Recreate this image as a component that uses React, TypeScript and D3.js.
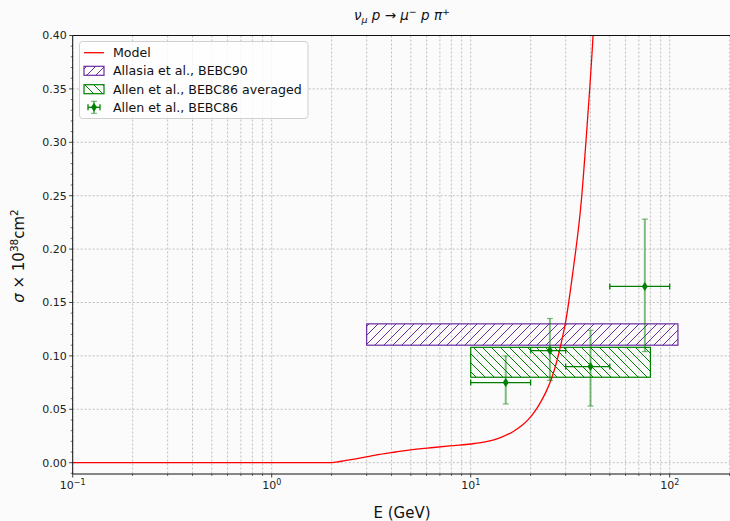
import React, { useEffect, useRef } from 'react';
import * as d3 from 'd3';

// model curve
const modelE = [0.1, 2.0, 2.2, 2.5, 2.9, 3.5, 4.2, 4.9, 6.5, 8.2, 10, 12, 14, 16.3, 18, 19.5, 21, 22.5, 24, 25.5, 27, 28.5, 30, 32.7, 36, 38.3, 41.2, 45];
const modelSigma = [0, 0, 0.0011, 0.0028, 0.005, 0.0078, 0.0100, 0.0118, 0.0142, 0.016, 0.0175, 0.0197, 0.0232, 0.029, 0.0345, 0.0405, 0.048, 0.057, 0.067, 0.079, 0.094, 0.112, 0.132, 0.18, 0.246, 0.311, 0.4, 0.55];

// BEBC90 band and BEBC86 averaged band
const bandNames = ['Allasia et al., BEBC90', 'Allen et al., BEBC86 averaged'];
const bandEmin = [3, 10];
const bandEmax = [110, 80];
const bandLow = [0.11, 0.08];
const bandHigh = [0.13, 0.108];

// BEBC86 points
const ptE = [15, 25, 40, 75];
const ptEmin = [10, 20, 30, 50];
const ptEmax = [20, 30, 50, 100];
const ptSigma = [0.075, 0.105, 0.09, 0.165];
const ptLow = [0.055, 0.077, 0.053, 0.104];
const ptHigh = [0.1, 0.135, 0.124, 0.228];

const xMajor = [0.1, 1, 10, 100];
const xMajorExp = ['−1', '0', '1', '2'];
const yMajor = [0, 0.05, 0.1, 0.15, 0.2, 0.25, 0.3, 0.35, 0.4];

const W = 730;
const H = 521;
const FONT = 'DejaVu Sans, sans-serif';

const App: React.FC = () => {
  const ref = useRef<SVGSVGElement | null>(null);

  useEffect(() => {
    if (!ref.current) return;
    const svg = d3.select(ref.current);
    svg.selectAll('*').remove();

    const left = 72.7, top = 35.5, bottom = 474, right = 732;
    const x = d3.scaleLog().domain([0.1, 10 ** ((right - left) / 199 - 1)]).range([left, right]);
    const y = d3.scaleLinear().domain([-0.0106, 0.4]).range([bottom, top]);

    svg.append('rect').attr('width', W).attr('height', H).attr('fill', '#fbfbfb');

    const defs = svg.append('defs');
    defs.append('clipPath').attr('id', 'plotclip')
      .append('rect').attr('x', left).attr('y', top).attr('width', right - left).attr('height', bottom - top);

    const hatch = (id: string, color: string, dir: number) => {
      const p = defs.append('pattern').attr('id', id).attr('patternUnits', 'userSpaceOnUse')
        .attr('width', 9).attr('height', 9);
      const d = dir > 0 ? 'M-2,2 L2,-2 M0,9 L9,0 M7,11 L11,7' : 'M-2,7 L2,11 M0,0 L9,9 M7,-2 L11,2';
      p.append('path').attr('d', d).attr('stroke', color).attr('stroke-width', 1);
    };
    hatch('h1', '#6a2ca0', 1);
    hatch('h2', 'green', -1);

    // grid
    const xMinor: number[] = [];
    for (let e = -1; e <= 2; e++) for (let k = 1; k <= 9; k++) {
      const v = k * 10 ** e;
      if (v >= 0.1 && v <= x.domain()[1]) xMinor.push(v);
    }
    const g = svg.append('g');
    g.selectAll('.vg').data(xMinor).enter().append('line')
      .attr('x1', d => x(d)).attr('x2', d => x(d)).attr('y1', top).attr('y2', bottom)
      .attr('stroke', '#b0b0b0').attr('stroke-width', 0.8).attr('stroke-dasharray', '2,2');
    g.selectAll('.hg').data(yMajor).enter().append('line')
      .attr('x1', left).attr('x2', right).attr('y1', d => y(d)).attr('y2', d => y(d))
      .attr('stroke', '#b0b0b0').attr('stroke-width', 0.8).attr('stroke-dasharray', '2,2');

    const plot = svg.append('g').attr('clip-path', 'url(#plotclip)');

    // bands
    const bandColors = ['#6a2ca0', 'green'];
    bandNames.forEach((_, i) => {
      plot.append('rect')
        .attr('x', x(bandEmin[i])).attr('y', y(bandHigh[i]))
        .attr('width', x(bandEmax[i]) - x(bandEmin[i]))
        .attr('height', y(bandLow[i]) - y(bandHigh[i]))
        .attr('fill', `url(#h${i + 1})`)
        .attr('stroke', bandColors[i]).attr('stroke-width', 1.2);
    });

    // model
    const line = d3.line<number>()
      .x((_, i) => x(modelE[i]))
      .y(d => y(d))
      .curve(d3.curveMonotoneX);
    plot.append('path').datum(modelSigma).attr('d', line)
      .attr('fill', 'none').attr('stroke', 'red').attr('stroke-width', 1.3);

    // error bars
    const diamond = 'M0,-4.5 L3,0 L0,4.5 L-3,0 Z';
    ptE.forEach((e, i) => {
      const cx = x(e), cy = y(ptSigma[i]);
      const yl = y(ptLow[i]), yh = y(ptHigh[i]);
      const vg = plot.append('g').attr('stroke', 'green').attr('stroke-opacity', 0.5).attr('stroke-width', 2);
      vg.append('line').attr('x1', cx).attr('x2', cx).attr('y1', yl).attr('y2', yh);
      vg.append('line').attr('x1', cx - 3).attr('x2', cx + 3).attr('y1', yl).attr('y2', yl).attr('stroke-width', 1.2);
      vg.append('line').attr('x1', cx - 3).attr('x2', cx + 3).attr('y1', yh).attr('y2', yh).attr('stroke-width', 1.2);
      const xl = x(ptEmin[i]), xr = x(ptEmax[i]);
      const hg = plot.append('g').attr('stroke', 'green').attr('stroke-width', 1.3);
      hg.append('line').attr('x1', xl).attr('x2', xr).attr('y1', cy).attr('y2', cy);
      hg.append('line').attr('x1', xl).attr('x2', xl).attr('y1', cy - 3).attr('y2', cy + 3);
      hg.append('line').attr('x1', xr).attr('x2', xr).attr('y1', cy - 3).attr('y2', cy + 3);
      plot.append('path').attr('d', diamond).attr('transform', `translate(${cx},${cy})`).attr('fill', 'green');
    });

    // axes
    const ax = svg.append('g').attr('font-family', FONT).attr('font-size', 11).attr('fill', '#222');
    ax.append('line').attr('x1', left).attr('x2', right).attr('y1', bottom).attr('y2', bottom).attr('stroke', '#111').attr('stroke-width', 1);
    ax.append('line').attr('x1', left).attr('x2', right).attr('y1', top).attr('y2', top).attr('stroke', '#111').attr('stroke-width', 1);
    ax.append('line').attr('x1', left).attr('x2', left).attr('y1', top).attr('y2', bottom).attr('stroke', '#111').attr('stroke-width', 1);

    xMinor.forEach(v => {
      const major = xMajor.includes(v);
      ax.append('line').attr('x1', x(v)).attr('x2', x(v)).attr('y1', bottom).attr('y2', bottom + (major ? 3.5 : 2))
        .attr('stroke', '#111').attr('stroke-width', major ? 0.8 : 0.6);
    });
    xMajor.forEach((v, i) => {
      const t = ax.append('text').attr('x', x(v)).attr('y', 489).attr('text-anchor', 'middle');
      t.append('tspan').text('10');
      t.append('tspan').attr('dy', -4).attr('font-size', 8).text(xMajorExp[i]);
    });

    for (let k = -1; k <= 40; k++) {
      const v = k / 100;
      const major = k % 5 === 0;
      ax.append('line').attr('x1', left).attr('x2', left - (major ? 3.5 : 2)).attr('y1', y(v)).attr('y2', y(v))
        .attr('stroke', '#111').attr('stroke-width', major ? 0.8 : 0.6);
    }
    yMajor.forEach(v => {
      ax.append('text').attr('x', left - 6).attr('y', y(v)).attr('dy', '0.35em').attr('text-anchor', 'end')
        .text(d3.format('.2f')(v));
    });

    // labels
    const lab = svg.append('g').attr('font-family', FONT).attr('fill', '#111');
    const title = lab.append('text').attr('x', 402).attr('y', 20).attr('text-anchor', 'middle').attr('font-size', 13.5);
    title.append('tspan').attr('font-style', 'italic').text('ν');
    title.append('tspan').attr('font-style', 'italic').attr('font-size', 9.5).attr('dy', 3).text('μ');
    title.append('tspan').attr('font-style', 'italic').attr('dy', -3).text(' p ');
    title.append('tspan').text('→');
    title.append('tspan').attr('font-style', 'italic').text(' μ');
    title.append('tspan').attr('font-size', 9.5).attr('dy', -5).text('−');
    title.append('tspan').attr('font-style', 'italic').attr('dy', 5).text(' p π');
    title.append('tspan').attr('font-size', 9.5).attr('dy', -5).text('+');

    lab.append('text').attr('x', 402).attr('y', 518).attr('text-anchor', 'middle').attr('font-size', 15).text('E (GeV)');

    const yl = lab.append('text').attr('transform', 'translate(24,256) rotate(-90)').attr('text-anchor', 'middle').attr('font-size', 15);
    yl.append('tspan').attr('font-style', 'italic').text('σ');
    yl.append('tspan').text(' × 10');
    yl.append('tspan').attr('font-size', 10.5).attr('dy', -6).text('38');
    yl.append('tspan').attr('dy', 6).text('cm');
    yl.append('tspan').attr('font-size', 10.5).attr('dy', -6).text('2');

    // legend
    const lg = svg.append('g').attr('font-family', FONT).attr('font-size', 12.6).attr('fill', '#111');
    lg.append('rect').attr('x', 79.5).attr('y', 41.5).attr('width', 228.5).attr('height', 77).attr('rx', 3)
      .attr('fill', 'white').attr('fill-opacity', 0.8).attr('stroke', '#d0d0d0');
    const rowY = [52.7, 70.8, 89.2, 107.3];
    const labels = ['Model', ...bandNames, 'Allen et al., BEBC86'];
    lg.append('line').attr('x1', 84).attr('x2', 104).attr('y1', rowY[0]).attr('y2', rowY[0]).attr('stroke', 'red').attr('stroke-width', 1.3);
    [0, 1].forEach(i => {
      lg.append('rect').attr('x', 84).attr('y', rowY[i + 1] - 4.5).attr('width', 20).attr('height', 9)
        .attr('fill', `url(#h${i + 1})`).attr('stroke', bandColors[i]).attr('stroke-width', 1.2);
    });
    const ey = rowY[3], ex = 94;
    lg.append('line').attr('x1', ex).attr('x2', ex).attr('y1', ey - 6).attr('y2', ey + 6).attr('stroke', 'green').attr('stroke-opacity', 0.5).attr('stroke-width', 2);
    lg.append('line').attr('x1', ex - 3).attr('x2', ex + 3).attr('y1', ey - 6).attr('y2', ey - 6).attr('stroke', 'green').attr('stroke-opacity', 0.5).attr('stroke-width', 1.2);
    lg.append('line').attr('x1', ex - 3).attr('x2', ex + 3).attr('y1', ey + 6).attr('y2', ey + 6).attr('stroke', 'green').attr('stroke-opacity', 0.5).attr('stroke-width', 1.2);
    lg.append('line').attr('x1', ex - 6).attr('x2', ex + 6).attr('y1', ey).attr('y2', ey).attr('stroke', 'green').attr('stroke-width', 1.3);
    lg.append('line').attr('x1', ex - 6).attr('x2', ex - 6).attr('y1', ey - 3).attr('y2', ey + 3).attr('stroke', 'green').attr('stroke-width', 1.3);
    lg.append('line').attr('x1', ex + 6).attr('x2', ex + 6).attr('y1', ey - 3).attr('y2', ey + 3).attr('stroke', 'green').attr('stroke-width', 1.3);
    lg.append('path').attr('d', diamond).attr('transform', `translate(${ex},${ey})`).attr('fill', 'green');
    labels.forEach((t, i) => {
      lg.append('text').attr('x', 113).attr('y', rowY[i]).attr('dy', '0.36em').text(t);
    });
  }, []);

  return (
    <div style={{ position: 'fixed', left: 0, top: 0 }}>
      <svg ref={ref} width={W} height={H} style={{ display: 'block' }} />
    </div>
  );
};

export default App;
